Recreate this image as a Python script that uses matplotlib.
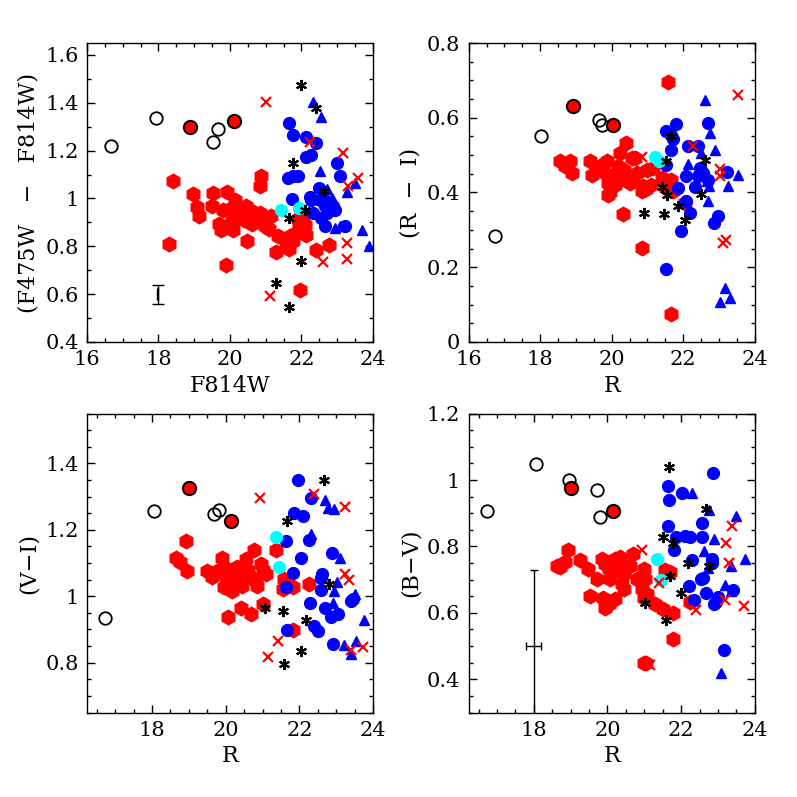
import numpy as np
import matplotlib
matplotlib.use('Agg')
import matplotlib.pyplot as plt
from matplotlib.ticker import MultipleLocator

plt.rcParams['font.family'] = 'DejaVu Serif'
plt.rcParams['font.size'] = 15

# ---- panel 1 : F814W vs (F475W - F814W) ----
p1_open = [(16.67, 1.22), (17.93, 1.335), (19.53, 1.238), (19.67, 1.29)]
p1_redring = [(18.88, 1.30), (20.12, 1.324)]
p1_hex = [(18.42, 1.075), (18.30, 0.81), (18.96, 1.018), (19.53, 1.022), (19.91, 1.029),
          (19.07, 0.964), (19.14, 0.928), (19.51, 0.969), (20.14, 0.992), (19.81, 0.953),
          (19.70, 0.894), (19.75, 0.869), (20.09, 0.869), (20.05, 0.904), (20.28, 0.946),
          (20.44, 0.969), (20.60, 0.925), (20.84, 0.939), (20.88, 1.092), (20.85, 1.053),
          (20.63, 0.894), (20.98, 0.886), (21.10, 0.872), (21.16, 0.925), (20.48, 0.82),
          (19.88, 0.72), (21.33, 0.844), (21.28, 0.776), (21.58, 0.806), (21.69, 0.841),
          (21.86, 0.855), (22.00, 0.862), (21.90, 0.914), (22.05, 0.904), (22.09, 0.89),
          (21.93, 0.88), (21.95, 0.616), (22.40, 0.786), (22.77, 0.806), (20.35, 0.93),
          (20.55, 0.95), (20.75, 0.91), (19.95, 0.95), (20.20, 0.96), (20.40, 0.91),
          (21.75, 0.82), (21.65, 0.79), (22.00, 0.932), (22.14, 0.848)]
p1_blue = [(21.65, 1.317), (21.77, 1.266), (22.13, 1.256), (22.42, 1.234), (22.14, 1.173),
           (22.28, 1.182), (22.98, 1.15), (23.09, 1.095), (21.63, 1.085), (21.77, 1.092),
           (21.91, 1.095), (21.74, 0.997), (22.23, 1.008), (22.28, 0.994), (22.48, 1.043),
           (22.33, 0.939), (22.56, 0.918), (22.65, 0.883), (22.65, 0.969), (22.79, 0.987),
           (22.93, 0.953), (22.51, 0.994), (22.88, 0.967), (23.21, 0.883), (22.72, 0.94),
           (22.60, 1.0)]
p1_tri = [(22.33, 1.405), (22.56, 1.34), (22.51, 1.113), (22.86, 1.001), (22.70, 1.04),
          (23.27, 1.025), (23.49, 1.064), (22.93, 0.876), (23.07, 0.886), (23.70, 0.869),
          (23.88, 0.80)]
p1_star = [(21.98, 1.475), (22.40, 1.38), (21.75, 1.148), (21.66, 0.918), (22.0, 0.74),
           (21.28, 0.646), (21.66, 0.546), (22.62, 1.032), (22.09, 0.953)]
p1_cross = [(21.02, 1.405), (22.23, 1.238), (23.16, 1.19), (23.58, 1.085), (23.30, 1.05),
            (23.26, 0.813), (23.26, 0.747), (22.59, 0.733), (21.12, 0.591)]
p1_cyan = [(21.44, 0.953), (21.93, 0.96)]

# ---- panel 2 : R vs (R - I) ----
p2_open = [(16.73, 0.283), (18.02, 0.552), (19.65, 0.593), (19.72, 0.581)]
p2_redring = [(18.93, 0.632), (20.05, 0.581)]
p2_hex = [(18.56, 0.483), (18.84, 0.483), (18.70, 0.47), (18.88, 0.452), (19.38, 0.483),
          (19.45, 0.448), (19.67, 0.47), (19.86, 0.483), (19.81, 0.452), (19.91, 0.394),
          (19.95, 0.40), (20.40, 0.532), (20.23, 0.506), (20.31, 0.342), (20.84, 0.252),
          (21.58, 0.695), (21.67, 0.075), (20.65, 0.492), (19.91, 0.425), (20.05, 0.443),
          (20.19, 0.47), (20.23, 0.434), (20.42, 0.439), (20.51, 0.425), (20.70, 0.452),
          (20.98, 0.461), (21.16, 0.466), (20.88, 0.416), (20.84, 0.403), (21.40, 0.439),
          (21.53, 0.434), (21.67, 0.434), (21.53, 0.412), (21.72, 0.403), (22.05, 0.372),
          (20.56, 0.492), (20.35, 0.46), (20.10, 0.42), (20.60, 0.44), (20.95, 0.41),
          (20.30, 0.45), (21.10, 0.42)]
p2_blue = [(21.80, 0.584), (22.70, 0.586), (21.52, 0.564), (21.67, 0.555), (21.72, 0.543),
           (21.67, 0.515), (22.14, 0.524), (22.42, 0.525), (21.52, 0.474), (22.09, 0.445),
           (22.47, 0.466), (22.51, 0.457), (22.42, 0.443), (22.56, 0.452), (22.70, 0.434),
           (23.23, 0.454), (21.86, 0.412), (22.33, 0.415), (22.09, 0.376), (22.20, 0.345),
           (22.98, 0.336), (22.86, 0.317), (21.95, 0.296), (21.52, 0.195)]
p2_tri = [(22.60, 0.648), (22.74, 0.559), (22.90, 0.515), (22.51, 0.506), (22.14, 0.477),
          (22.67, 0.43), (22.72, 0.416), (23.26, 0.418), (23.54, 0.448), (22.70, 0.376),
          (23.18, 0.144), (23.30, 0.118), (23.02, 0.108)]
p2_star = [(21.65, 0.552), (21.52, 0.483), (22.60, 0.486), (21.40, 0.415), (21.56, 0.392),
           (21.86, 0.363), (22.51, 0.396), (22.05, 0.326), (20.91, 0.345), (21.46, 0.343)]
p2_cross = [(22.26, 0.524), (23.02, 0.463), (23.04, 0.443), (23.19, 0.274), (23.12, 0.265),
            (23.52, 0.662), (20.86, 0.494)]
p2_cyan = [(21.21, 0.495), (21.33, 0.483)]

# ---- panel 3 : R vs (V - I) ----
p3_open = [(16.73, 0.936), (18.06, 1.256), (19.68, 1.249), (19.82, 1.259)]
p3_redring = [(19.0, 1.326), (20.15, 1.227)]
p3_hex = [(18.91, 1.166), (18.66, 1.116), (18.77, 1.103), (18.94, 1.075), (19.50, 1.077),
          (19.64, 1.057), (19.91, 1.116), (19.95, 1.087), (20.0, 1.057), (19.95, 1.027),
          (20.18, 1.017), (20.32, 1.087), (20.45, 1.077), (20.55, 1.112), (20.77, 1.138),
          (20.68, 1.057), (20.45, 1.032), (20.82, 1.047), (20.95, 1.097), (21.09, 1.067),
          (20.86, 1.032), (20.32, 1.052), (20.23, 1.077), (19.77, 1.077), (20.41, 0.966),
          (20.70, 0.946), (20.06, 0.938), (21.0, 0.976), (21.36, 1.138), (21.59, 1.052),
          (21.55, 1.022), (21.82, 1.027), (22.25, 1.037), (21.82, 0.898), (21.00, 1.08),
          (20.6, 1.08), (20.15, 1.05)]
p3_blue = [(21.97, 1.350), (22.32, 1.297), (21.86, 1.251), (22.11, 1.241), (21.65, 1.166),
           (22.25, 1.168), (22.05, 1.116), (21.82, 1.069), (21.64, 1.029), (22.61, 1.067),
           (22.59, 1.055), (22.88, 1.13), (22.59, 1.019), (22.29, 0.979), (22.70, 0.966),
           (22.86, 0.938), (23.06, 0.946), (22.39, 0.911), (22.52, 0.896), (23.41, 0.987),
           (23.45, 0.993), (22.91, 0.857), (21.66, 0.898)]
p3_tri = [(22.70, 1.291), (22.79, 1.265), (22.94, 1.262), (22.32, 1.188), (23.11, 1.116),
          (23.02, 1.043), (22.94, 1.016), (22.91, 0.979), (23.5, 1.008), (23.75, 0.929),
          (23.21, 0.852), (23.53, 0.865), (23.39, 0.827)]
p3_star = [(22.68, 1.350), (21.66, 1.226), (22.80, 1.037), (21.55, 0.955), (22.18, 0.928),
           (22.05, 0.836), (21.59, 0.797), (21.06, 0.966)]
p3_cross = [(20.94, 1.297), (22.41, 1.309), (23.23, 1.269), (23.25, 1.067), (23.34, 1.049),
            (21.43, 0.866), (21.15, 0.818), (23.41, 0.838), (23.73, 0.846)]
p3_cyan = [(21.36, 1.178), (21.45, 1.087)]

# ---- panel 4 : R vs (B - V) ----
p4_open = [(16.74, 0.908), (18.05, 1.049), (18.95, 1.001), (19.71, 0.969), (19.79, 0.888)]
p4_redring = [(19.01, 0.977), (20.14, 0.908)]
p4_hex = [(18.93, 0.789), (18.72, 0.737), (18.86, 0.752), (18.63, 0.742), (19.26, 0.76),
          (19.46, 0.732), (19.71, 0.702), (19.53, 0.651), (19.89, 0.646), (19.94, 0.616),
          (19.85, 0.762), (19.94, 0.747), (20.03, 0.732), (20.08, 0.702), (20.21, 0.762),
          (20.35, 0.767), (20.48, 0.742), (20.44, 0.717), (20.39, 0.687), (20.44, 0.672),
          (20.21, 0.641), (20.03, 0.626), (20.68, 0.777), (20.98, 0.732), (20.80, 0.702),
          (21.02, 0.702), (20.93, 0.672), (21.07, 0.657), (20.98, 0.646), (21.29, 0.626),
          (21.52, 0.612), (21.79, 0.599), (21.56, 0.728), (21.70, 0.722), (21.79, 0.521),
          (20.98, 0.45), (22.24, 0.632), (21.05, 0.45), (20.3, 0.73), (20.6, 0.74)]
p4_blue = [(22.86, 1.022), (21.64, 0.981), (21.66, 0.941), (22.02, 0.96), (21.64, 0.863),
           (21.85, 0.83), (22.11, 0.833), (22.24, 0.83), (22.58, 0.83), (21.81, 0.79),
           (22.56, 0.87), (22.29, 0.76), (22.85, 0.762), (22.54, 0.702), (22.60, 0.705),
           (22.22, 0.682), (22.36, 0.64), (22.67, 0.66), (23.0, 0.647), (22.90, 0.626),
           (22.95, 0.634), (23.41, 0.668), (23.17, 0.488), (22.83, 0.75)]
p4_tri = [(22.29, 0.961), (22.76, 0.911), (23.49, 0.891), (22.9, 0.822), (22.62, 0.787),
          (22.86, 0.765), (23.73, 0.762), (23.35, 0.742), (22.72, 0.735), (23.2, 0.685),
          (23.35, 0.667), (23.07, 0.42)]
p4_star = [(21.66, 1.04), (22.67, 0.913), (21.52, 0.830), (21.79, 0.81), (22.18, 0.75),
           (22.76, 0.74), (21.7, 0.71), (22.0, 0.66), (21.02, 0.63), (21.58, 0.58)]
p4_cross = [(20.95, 0.79), (23.39, 0.861), (23.23, 0.81), (23.30, 0.75), (23.70, 0.62),
            (22.40, 0.61), (23.2, 0.64), (21.15, 0.442), (21.40, 0.69)]
p4_cyan = [(21.34, 0.762), (21.46, 0.699)]

RED = '#ff0000'
BLUE = '#0000ff'
CYAN = '#00ffff'


def xy(pts):
    a = np.array(pts)
    return a[:, 0], a[:, 1]


def draw(ax, hexs, blue, tri, opn, ring, cyan, star, cross):
    ax.plot(*xy(hexs), 'h', color=RED, ms=10.5, mec=RED, ls='none')
    ax.plot(*xy(blue), 'o', color=BLUE, ms=8.5, mec=BLUE, ls='none')
    ax.plot(*xy(tri), '^', color=BLUE, ms=7.5, mec=BLUE, ls='none')
    ax.plot(*xy(opn), 'o', mfc='none', mec='k', ms=9, mew=1.3, ls='none')
    ax.plot(*xy(ring), 'o', mfc=RED, mec='k', ms=9.5, mew=1.5, ls='none')
    ax.plot(*xy(cyan), 'o', color=CYAN, mec=CYAN, ms=8.5, ls='none')
    ax.plot(*xy(star), marker=(6, 2, 0), color='k', ms=8, mew=1.5, ls='none')
    ax.plot(*xy(cross), 'x', color=RED, ms=6.5, mew=1.6, ls='none')


def style(ax, ymaj, ymin):
    ax.xaxis.set_major_locator(MultipleLocator(2))
    ax.xaxis.set_minor_locator(MultipleLocator(0.5))
    ax.yaxis.set_major_locator(MultipleLocator(ymaj))
    ax.yaxis.set_minor_locator(MultipleLocator(ymin))
    ax.yaxis.set_major_formatter(plt.FuncFormatter(lambda v, p: f'{v:g}'))
    ax.tick_params(which='both', direction='in', top=True, right=True)
    ax.tick_params(which='major', length=6, width=1, labelsize=15, pad=6)
    ax.tick_params(which='minor', length=3, width=1)
    for s in ax.spines.values():
        s.set_linewidth(1)


fig = plt.figure(figsize=(7.97, 7.97), dpi=100)
w, h = 0.359, 0.375
ax1 = fig.add_axes([0.109, 0.571, w, h])
ax2 = fig.add_axes([0.588, 0.571, w, h])
ax3 = fig.add_axes([0.109, 0.106, w, h])
ax4 = fig.add_axes([0.588, 0.106, w, h])

draw(ax1, p1_hex, p1_blue, p1_tri, p1_open, p1_redring, p1_cyan, p1_star, p1_cross)
ax1.errorbar(17.98, 0.6, xerr=0.02, yerr=0.04, color='k', capsize=4, lw=1)
ax1.set_xlim(16, 24)
ax1.set_ylim(0.4, 1.65)
style(ax1, 0.2, 0.1)
ax1.set_xlabel('F814W', fontsize=16)
ax1.set_ylabel('(F475W   \u2212   F814W)', fontsize=16)

draw(ax2, p2_hex, p2_blue, p2_tri, p2_open, p2_redring, p2_cyan, p2_star, p2_cross)
ax2.set_xlim(16, 24)
ax2.set_ylim(0, 0.8)
style(ax2, 0.2, 0.05)
ax2.set_xlabel('R', fontsize=16)
ax2.set_ylabel('(R  \u2212  I)', fontsize=16)

draw(ax3, p3_hex, p3_blue, p3_tri, p3_open, p3_redring, p3_cyan, p3_star, p3_cross)
ax3.set_xlim(16.23, 24)
ax3.set_ylim(0.65, 1.55)
style(ax3, 0.2, 0.05)
ax3.set_xlabel('R', fontsize=16)
ax3.set_ylabel('(V\u2212I)', fontsize=16)

draw(ax4, p4_hex, p4_blue, p4_tri, p4_open, p4_redring, p4_cyan, p4_star, p4_cross)
ax4.errorbar(18.0, 0.5, xerr=0.2, yerr=0.23, color='k', capsize=3, lw=1)
ax4.set_xlim(16.23, 24)
ax4.set_ylim(0.3, 1.2)
style(ax4, 0.2, 0.05)
ax4.set_xlabel('R', fontsize=16)
ax4.set_ylabel('(B\u2212V)', fontsize=16)

fig.savefig('out.png', dpi=100)
